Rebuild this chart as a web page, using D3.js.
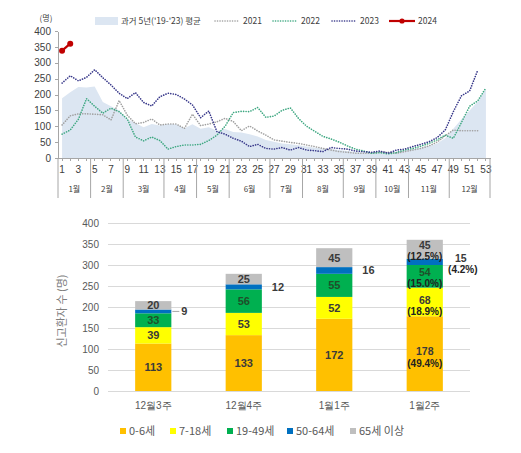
<!DOCTYPE html>
<html>
<head>
<meta charset="utf-8">
<title>주별 신고환자 수</title>
<style>
	body { margin: 0; background: #fff; }
	svg { display: block; font-family: "Noto Sans CJK KR", "Noto Sans", sans-serif; }
	.axis path, .axis line { stroke: #a6a6a6; shape-rendering: crispEdges; }
	.axis text { fill: #404040; }
	.val { font-family: "Liberation Sans", Arial, sans-serif; font-weight: bold; }
</style>
</head>
<body>
<div id="chart"></div>
<script src="https://d3js.org/d3.v7.min.js"></script>
<script>
// ---- top chart data (weekly) ----
var weeks = [1,2,3,4,5,6,7,8,9,10,11,12,13,14,15,16,17,18,19,20,21,22,23,24,25,26,27,
	28,29,30,31,32,33,34,35,36,37,38,39,40,41,42,43,44,45,46,47,48,49,50,51,52,53];
var monthNames = ["1월","2월","3월","4월","5월","6월","7월","8월","9월","10월","11월","12월"];
var monthWeekCount = [4,4,5,4,4,5,4,5,4,4,5,5];
var avg5yr = [188,207,224,222,225,176,163,150,122,110,97,107,102,107,106,94,106,92,97,86,91,82,80,75,68,57,51,
	46,43,40,36,32,30,28,25,22,20,18,17,17,17,20,24,28,32,38,46,62,92,122,150,178,218];
var y2021 = [104,133,139,139,138,136,120,181,135,108,112,123,104,107,107,93,138,102,107,114,125,115,86,101,85,72,57,
	53,49,46,41,36,30,25,20,18,15,15,15,18,18,15,20,25,30,38,50,70,88,86,86,86,null];
var y2022 = [75,88,122,187,163,141,157,146,123,66,54,66,55,28,36,41,41,43,55,72,100,143,147,146,159,128,132,
	150,158,125,100,84,68,60,50,38,28,22,15,17,13,17,25,30,37,46,57,72,62,112,163,180,221];
var y2023 = [236,259,243,254,278,253,230,204,187,206,175,164,193,204,200,186,167,127,148,83,75,62,53,36,43,30,28,
	33,25,33,25,23,20,33,30,28,22,20,18,22,15,25,28,36,43,51,64,88,146,196,211,277,null];
var y2024 = [338,360];
var yTicksTop = [0,50,100,150,200,250,300,350,400];

// ---- bottom chart data (age groups) ----
var periods = ["12월3주","12월4주","1월1주","1월2주"];
var ageGroups = ["0-6세","7-18세","19-49세","50-64세","65세 이상"];
var age0to6 = [113,133,172,178];
var age7to18 = [39,53,52,68];
var age19to49 = [33,56,55,54];
var age50to64 = [9,12,16,15];
var age65plus = [20,25,45,45];
var lastWeekPct = ["49.4%","18.9%","15.0%","4.2%","12.5%"];
var yTicksBottom = [0,50,100,150,200,250,300,350,400];

var svg = d3.select("#chart").append("svg")
	.attr("width", 521)
	.attr("height", 453);

// ================= top: weekly line chart =================
var x = d3.scaleBand().domain(weeks).range([58, 490]);
var y = d3.scaleLinear().domain([0, 400]).range([158, 31]);
var cx = function(w) { return x(w) + x.bandwidth() / 2; };

var gTop = svg.append("g").style("font-size", "8px");

// area for 5 year average
gTop.append("path")
	.datum(weeks)
	.attr("fill", "#dce6f2")
	.attr("d", d3.area()
		.x(function(w) { return cx(w); })
		.y0(y(0))
		.y1(function(w, i) { return y(avg5yr[i]); }));

// y axis
gTop.append("g")
	.attr("class", "axis")
	.attr("transform", "translate(58,0)")
	.call(d3.axisLeft(y).tickValues(yTicksTop).tickSize(3).tickSizeOuter(0))
	.selectAll("text").attr("dx", "-1");

gTop.append("text")
	.attr("x", 46).attr("y", 21)
	.attr("text-anchor", "middle")
	.attr("fill", "#404040")
	.text("(명)");

// x axis with a tick each week, label every second week
gTop.append("g")
	.attr("class", "axis")
	.attr("transform", "translate(0,158)")
	.call(d3.axisBottom(x).tickSize(3).tickSizeOuter(0)
		.tickFormat(function(w) { return w % 2 === 1 ? w : ""; }))
	.selectAll("text").attr("dy", "0.9em");

// month separators and labels
var monthStarts = [];
var acc = 0;
monthWeekCount.forEach(function(n) { monthStarts.push(weeks[acc]); acc += n; });

monthStarts.forEach(function(w, i) {
	var x0 = x(w);
	var x1 = i < monthStarts.length - 1 ? x(monthStarts[i + 1]) : x.range()[1];
	gTop.append("line")
		.attr("x1", x0).attr("x2", x0).attr("y1", 158).attr("y2", 198)
		.attr("stroke", "#a6a6a6");
	gTop.append("text")
		.attr("x", (x0 + x1) / 2).attr("y", 192)
		.attr("text-anchor", "middle")
		.attr("fill", "#404040")
		.text(monthNames[i]);
});
gTop.append("line")
	.attr("x1", x.range()[1]).attr("x2", x.range()[1]).attr("y1", 158).attr("y2", 198)
	.attr("stroke", "#a6a6a6");

// dotted series lines
var series = [
	{ name: "2021", values: y2021, color: "#a0a0a0" },
	{ name: "2022", values: y2022, color: "#3fa882" },
	{ name: "2023", values: y2023, color: "#38388a" }
];

var line = function(vals) {
	return d3.line()
		.defined(function(w, i) { return vals[i] != null; })
		.x(function(w) { return cx(w); })
		.y(function(w, i) { return y(vals[i]); });
};

series.forEach(function(s) {
	gTop.append("path")
		.datum(weeks.slice(0, s.values.length))
		.attr("fill", "none")
		.attr("stroke", s.color)
		.attr("stroke-width", 1.6)
		.attr("stroke-linecap", "round")
		.attr("stroke-dasharray", "0.1,2.4")
		.attr("d", line(s.values));
});

// 2024 solid red with markers
var weeks2024 = weeks.slice(0, y2024.length);
gTop.append("path")
	.datum(weeks2024)
	.attr("fill", "none")
	.attr("stroke", "#c00000")
	.attr("stroke-width", 2.2)
	.attr("d", line(y2024));
gTop.selectAll(".m24")
	.data(weeks2024)
	.enter().append("circle")
	.attr("class", "m24")
	.attr("cx", function(w) { return cx(w); })
	.attr("cy", function(w, i) { return y(y2024[i]); })
	.attr("r", 3)
	.attr("fill", "#c00000");

// legend
var lg = gTop.append("g").attr("transform", "translate(0,21)");
lg.append("rect").attr("x", 95).attr("y", -4).attr("width", 23).attr("height", 8).attr("fill", "#dce6f2");
lg.append("text").attr("x", 121).attr("y", 3).attr("fill", "#404040").style("font-size", "8.5px").text("과거 5년('19-'23) 평균");

var legendX = [215, 273, 332];
series.forEach(function(s, i) {
	lg.append("line")
		.attr("x1", legendX[i]).attr("x2", legendX[i] + 25)
		.attr("stroke", s.color).attr("stroke-width", 1.6)
		.attr("stroke-linecap", "round").attr("stroke-dasharray", "0.1,2.4");
	lg.append("text").attr("x", legendX[i] + 28).attr("y", 3)
		.attr("fill", "#404040").style("font-size", "8.5px").text(s.name);
});
lg.append("line").attr("x1", 389).attr("x2", 415).attr("stroke", "#c00000").attr("stroke-width", 2.2);
lg.append("circle").attr("cx", 402).attr("r", 2.6).attr("fill", "#c00000");
lg.append("text").attr("x", 418).attr("y", 3).attr("fill", "#404040").style("font-size", "8.5px").text("2024");

// ================= bottom: stacked bars by age =================
var colors = ["#ffc000", "#ffff00", "#00b050", "#0070c0", "#bfbfbf"];
var labelColors = ["#3a3a3a", "#3a3a3a", "#1f4f2a", "#3a3a3a", "#3a3a3a"];
var groupValues = [age0to6, age7to18, age19to49, age50to64, age65plus];

var rows = periods.map(function(p, i) {
	var r = { period: p };
	ageGroups.forEach(function(g, k) { r[g] = groupValues[k][i]; });
	return r;
});
var stacked = d3.stack().keys(ageGroups)(rows);

var xb = d3.scaleBand().domain(periods).range([108, 470]).paddingInner(0.6).paddingOuter(0.3);
var yb = d3.scaleLinear().domain([0, 400]).range([391, 223]);

var gBottom = svg.append("g").style("font-size", "11px");

// gridlines
gBottom.append("g")
	.selectAll("line")
	.data(yTicksBottom)
	.enter().append("line")
	.attr("x1", 108).attr("x2", 470)
	.attr("y1", function(d) { return yb(d); })
	.attr("y2", function(d) { return yb(d); })
	.attr("stroke", "#d9d9d9")
	.attr("shape-rendering", "crispEdges");

var yAxisB = gBottom.append("g")
	.attr("transform", "translate(108,0)")
	.call(d3.axisLeft(yb).tickValues(yTicksBottom).tickSize(0).tickPadding(9));
yAxisB.select(".domain").remove();
yAxisB.selectAll("text").attr("fill", "#595959");

var xAxisB = gBottom.append("g")
	.attr("transform", "translate(0,391)")
	.call(d3.axisBottom(xb).tickSize(0).tickPadding(11));
xAxisB.select(".domain").remove();
xAxisB.selectAll("text").attr("fill", "#595959");

gBottom.append("text")
	.attr("transform", "translate(66,311)rotate(-90)")
	.attr("text-anchor", "middle")
	.attr("fill", "#7f7f7f")
	.style("font-size", "11px")
	.text("신고환자 수 (명)");

// bars
stacked.forEach(function(layer, k) {
	gBottom.append("g")
		.selectAll("rect")
		.data(layer)
		.enter().append("rect")
		.attr("x", function(d) { return xb(d.data.period); })
		.attr("y", function(d) { return yb(d[1]); })
		.attr("width", xb.bandwidth())
		.attr("height", function(d) { return yb(d[0]) - yb(d[1]); })
		.attr("fill", colors[k]);
});

// value labels (last week also gets its share in brackets)
var lastIdx = periods.length - 1;
stacked.forEach(function(layer, k) {
	layer.forEach(function(d, i) {
		var mid = (yb(d[0]) + yb(d[1])) / 2;
		var value = d[1] - d[0];
		var isLast = i === lastIdx;
		var outside = ageGroups[k] === "50-64세";
		var bx = xb(d.data.period);
		var tx, anchor;
		if (outside) {
			tx = isLast ? bx + xb.bandwidth() + 18 : bx + xb.bandwidth() + 10;
			anchor = isLast ? "middle" : "start";
		} else {
			tx = bx + xb.bandwidth() / 2;
			anchor = "middle";
		}
		var t = gBottom.append("text")
			.attr("class", "val")
			.attr("x", tx)
			.attr("y", mid)
			.attr("dy", "0.35em")
			.attr("text-anchor", anchor)
			.attr("fill", labelColors[k])
			.text(value);
		if (isLast) {
			var small = (yb(d[0]) - yb(d[1])) < 25;
			var y1 = small ? mid - 4 : mid - 2;
			t.attr("y", y1).style("font-size", "10.5px");
			gBottom.append("text")
				.attr("class", "val")
				.attr("x", tx + (outside ? 2 : 0))
				.attr("y", y1 + 11.5)
				.attr("dy", "0.35em")
				.attr("text-anchor", "middle")
				.attr("fill", "#222")
				.style("font-size", "10px")
				.text("(" + lastWeekPct[k] + ")");
		}
		// leader line for the very small segment
		if (outside && value < 10) {
			gBottom.append("line")
				.attr("x1", bx + xb.bandwidth() + 1).attr("x2", bx + xb.bandwidth() + 8)
				.attr("y1", mid).attr("y2", mid)
				.attr("stroke", "#a6a6a6");
		}
	});
});

// legend
var legendPos = [120, 170, 227, 287, 350];
var lb = gBottom.append("g").attr("transform", "translate(0,431)");
ageGroups.forEach(function(g, k) {
	lb.append("rect")
		.attr("x", legendPos[k]).attr("y", -3)
		.attr("width", 6).attr("height", 6)
		.attr("fill", colors[k]);
	lb.append("text")
		.attr("x", legendPos[k] + 9).attr("y", 0)
		.attr("dy", "0.35em")
		.attr("fill", "#595959")
		.text(g);
});
</script>
</body>
</html>
